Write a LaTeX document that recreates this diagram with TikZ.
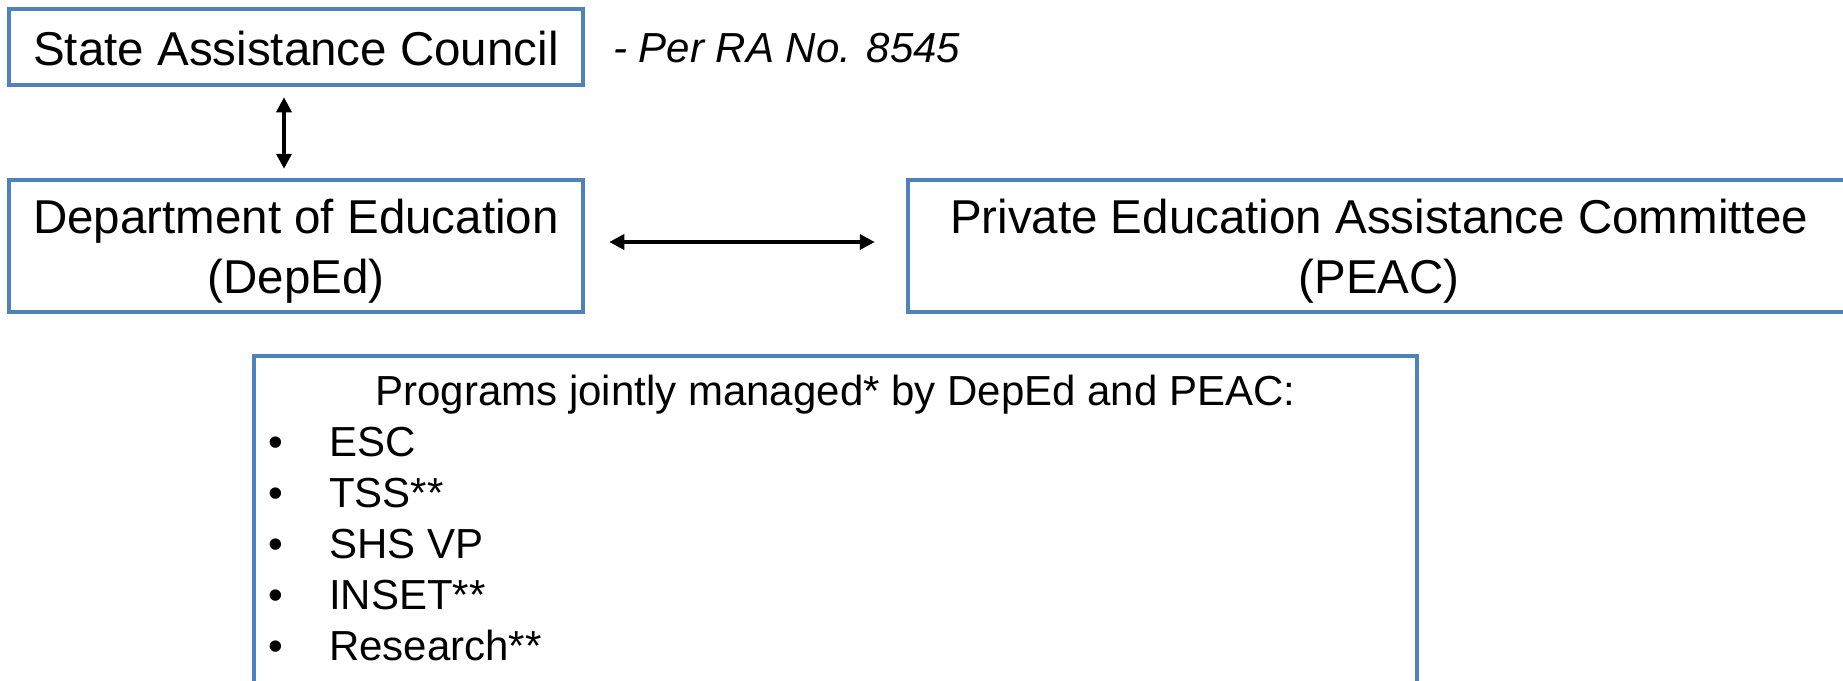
\documentclass[tikz,border=0pt]{standalone}
\usepackage{fontspec}
\setmainfont{Liberation Sans}
\usetikzlibrary{arrows.meta}
\definecolor{boxblue}{HTML}{4F81BD}
\begin{document}
\begin{tikzpicture}[x=1pt,y=-1pt,
  box/.style={draw=boxblue, line width=4.5pt, rectangle, inner sep=0pt},
  bigtext/.style={font=\fontsize{47.5}{59}\selectfont},
  smalltext/.style={font=\fontsize{42}{51}\selectfont},
  txt/.style={inner sep=0pt, anchor=base},
  link/.style={line width=3.5pt, {Triangle[length=15pt,width=15pt]}-{Triangle[length=15pt,width=15pt]}}]
\useasboundingbox (0,0) rectangle (1843,680);
\clip (0,0) rectangle (1843,680);

\node[box, minimum width=574pt, minimum height=76pt] (sac) at (296,47) {};
\node[txt, bigtext] (sactext) at (296,65) {State Assistance Council};
\node[txt, anchor=base west, font=\fontsize{42}{51}\selectfont\itshape] (ra) at (613,62) {- Per RA No. 8545};

\node[box, minimum width=574pt, minimum height=132pt] (deped) at (296,246) {};
\node[txt, bigtext] (deped1) at (296,233) {Department of Education};
\node[txt, bigtext] (deped2) at (296,293) {(DepEd)};

\node[box, minimum width=942pt, minimum height=132pt] (peac) at (1379,246) {};
\node[txt, bigtext] (peac1) at (1379,233) {Private Education Assistance Committee};
\node[txt, bigtext] (peac2) at (1379,293) {(PEAC)};

\node[box, minimum width=1163pt, minimum height=400pt] (prog) at (835.5,556) {};
\node[txt, smalltext] (title) at (835.5,405) {Programs jointly managed* by DepEd and PEAC:};
\foreach \t [count=\i] in {ESC, TSS**, SHS VP, INSET**, Research**} {
  \node[txt, smalltext, anchor=base west] (bul\i) at (268,{405+51*\i}) {\textbullet};
  \node[txt, smalltext, anchor=base west] (item\i) at (329,{405+51*\i}) {\t};
}

\draw[link, shorten <=10pt, shorten >=9pt] ([xshift=-12pt]sac.south) -- ([xshift=-12pt]deped.north);
\draw[link, shorten <=24pt, shorten >=31pt] ([yshift=4pt]deped.east) -- ([yshift=4pt]peac.west);
\end{tikzpicture}
\end{document}
